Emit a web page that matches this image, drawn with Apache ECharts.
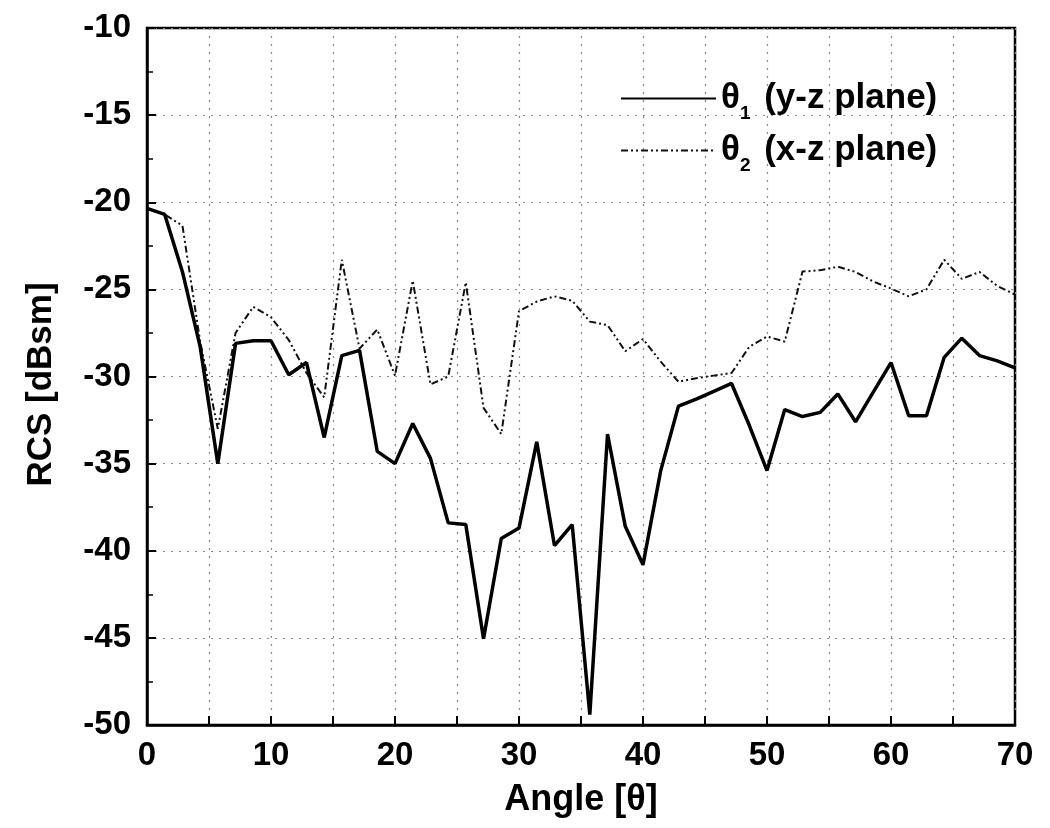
<!DOCTYPE html>
<html><head><meta charset="utf-8">
<script src="https://cdn.jsdelivr.net/npm/echarts@6/dist/echarts.min.js"></script>
<style>html,body{margin:0;padding:0;background:#fff}#c{width:1050px;height:828px}</style>
</head><body><div id="c"></div>
<script>
const angles = [0,1.43,2.86,4.29,5.71,7.14,8.57,10,11.43,12.86,14.29,15.71,17.14,18.57,20,21.43,22.86,24.29,25.71,27.14,28.57,30,31.43,32.86,34.29,35.71,37.14,38.57,40,41.43,42.86,44.29,45.71,47.14,48.57,50,51.43,52.86,54.29,55.71,57.14,58.57,60,61.43,62.86,64.29,65.71,67.14,68.57,70];
const theta1 = [-20.35,-20.7,-24.0,-28.3,-35.0,-28.1,-27.95,-27.95,-29.9,-29.2,-33.5,-28.8,-28.5,-34.3,-35.0,-32.7,-34.7,-38.4,-38.5,-45.05,-39.3,-38.7,-33.75,-39.7,-38.5,-49.4,-33.3,-38.6,-40.8,-35.4,-31.7,-31.3,-30.85,-30.4,-32.8,-35.4,-31.9,-32.3,-32.06,-31.0,-32.6,-30.9,-29.2,-32.25,-32.25,-28.9,-27.8,-28.8,-29.1,-29.5];
const theta2 = [-20.35,-20.7,-21.35,-28.0,-33.0,-27.5,-26.0,-26.6,-27.9,-29.8,-31.2,-23.3,-28.4,-27.3,-29.95,-24.5,-30.45,-30.0,-24.6,-31.8,-33.3,-26.25,-25.7,-25.4,-25.65,-26.85,-27.05,-28.55,-27.85,-29.15,-30.3,-30.1,-29.95,-29.8,-28.3,-27.7,-28.0,-23.98,-23.9,-23.7,-24.0,-24.55,-24.95,-25.4,-25.0,-23.3,-24.4,-24.0,-24.8,-25.3];
const seriesNames = ['{t|θ}{s|1}{t| (y-z plane)}', '{t|θ}{s|2}{t| (x-z plane)}'];

const chart = echarts.init(document.getElementById('c'));
const font = 'Liberation Sans, Arial, sans-serif';
chart.setOption({
  animation: false,
  grid: {left: 147, right: 35, top: 28, bottom: 103, show: true, borderColor: '#000', borderWidth: 2.5, backgroundColor: 'transparent'},
  legend: {
    orient: 'vertical', left: 615, top: 69, itemWidth: 95, itemHeight: 20, itemGap: 3,
    data: [{name: 'A'}, {name: 'B'}],
    itemStyle: {color: 'transparent', borderWidth: 0},
    formatter: n => n === 'A' ? seriesNames[0] : seriesNames[1],
    textStyle: {
      padding: [0, 0, 0, 0],
      rich: {
        t: {fontFamily: font, fontWeight: 'bold', fontSize: 35, color: '#000', lineHeight: 38},
        s: {fontFamily: font, fontWeight: 'bold', fontSize: 19, color: '#000', padding: [30, 4, 0, 0], lineHeight: 38}
      }
    }
  },
  xAxis: {
    type: 'value', min: 0, max: 70, interval: 5,
    name: 'Angle [θ]', nameLocation: 'middle', nameGap: 57,
    nameTextStyle: {fontFamily: font, fontWeight: 'bold', fontSize: 36, color: '#000'},
    axisLine: {show: true, lineStyle: {color: '#000', width: 2.5}},
    axisTick: {show: true, inside: true, length: 9, lineStyle: {color: '#000', width: 2}},
    axisLabel: {margin: 14, fontFamily: font, fontWeight: 'bold', fontSize: 33, color: '#000',
      formatter: v => (v % 10 === 0 ? String(v) : '')},
    splitLine: {show: true, lineStyle: {color: '#888', type: [2, 6], width: 1.2}}
  },
  yAxis: {
    type: 'value', min: -50, max: -10, interval: 5,
    name: 'RCS [dBsm]', nameLocation: 'middle', nameGap: 88, nameRotate: 90,
    nameTextStyle: {fontFamily: font, fontWeight: 'bold', fontSize: 35, color: '#000', padding: [0, 16, 0, 0]},
    axisLine: {show: true, lineStyle: {color: '#000', width: 2.5}},
    axisTick: {show: true, inside: true, length: 9, lineStyle: {color: '#000', width: 2}},
    minorTick: {show: true, splitNumber: 2, length: 6, lineStyle: {color: '#000', width: 1.5}},
    axisLabel: {margin: 16, fontFamily: font, fontWeight: 'bold', fontSize: 33, color: '#000'},
    splitLine: {show: true, lineStyle: {color: '#888', type: [2, 6], width: 1.2}}
  },
  series: [
    {name: 'A', type: 'line', showSymbol: false, symbol: 'none',
     data: angles.map((a, i) => [a, theta1[i]]),
     lineStyle: {color: '#000', width: 3.5}, itemStyle: {color: '#000'}, z: 3},
    {name: 'B', type: 'line', showSymbol: false, symbol: 'none',
     data: angles.map((a, i) => [a, theta2[i]]),
     lineStyle: {color: '#111', width: 2, type: [7, 3, 2, 3, 2, 3]}, itemStyle: {color: '#111'}, z: 2}
  ]
});
</script></body></html>
